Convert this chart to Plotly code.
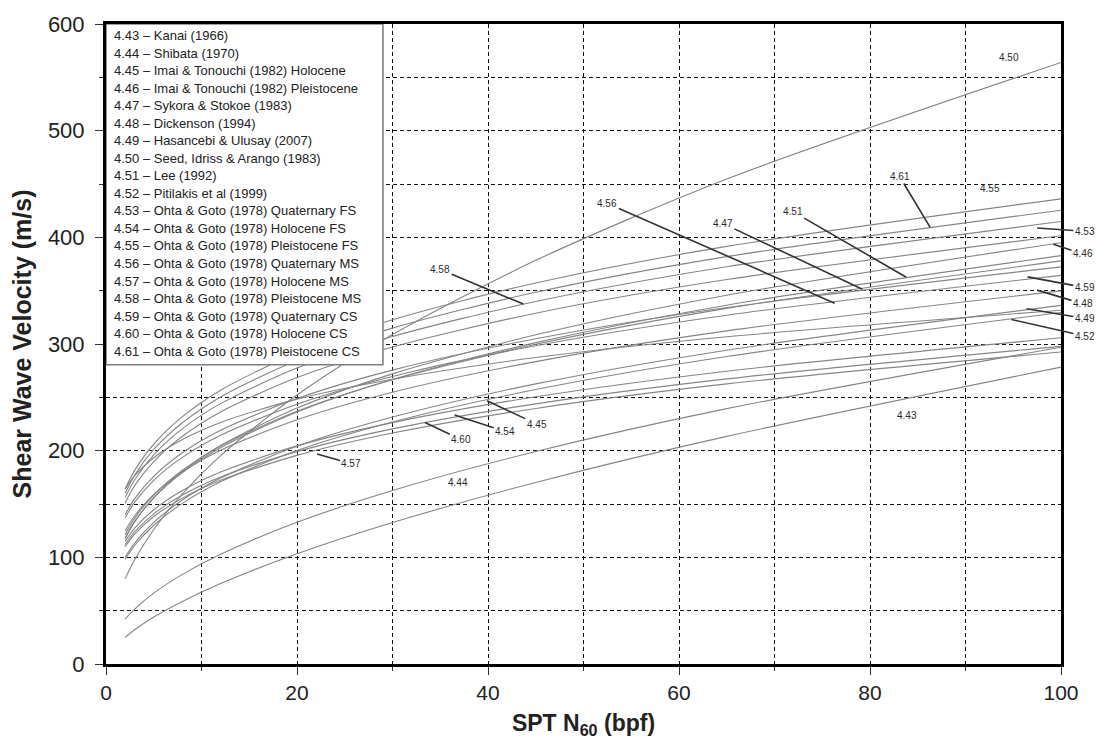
import plotly.graph_objects as go

# SPT blow count samples (bpf) shared by every correlation curve
n60 = [2, 3, 5, 8, 12, 20, 30, 45, 65, 100]

# Shear wave velocity (m/s) for each correlation, equation numbers 4.43-4.61
vs_443 = [25.0, 32.1, 44.0, 58.7, 75.4, 103.3, 132.6, 170.2, 213.4, 278.3]
vs_444 = [42.0, 51.5, 66.4, 84.0, 102.9, 132.8, 162.7, 199.2, 239.4, 297.0]
vs_445 = [98.0, 111.1, 130.1, 150.6, 170.8, 200.1, 226.9, 257.3, 288.3, 329.5]
vs_446 = [117.5, 133.2, 156.0, 180.6, 204.8, 239.9, 272.0, 308.6, 345.7, 395.0]
vs_447 = [121.5, 136.7, 158.4, 181.6, 204.4, 236.9, 266.4, 299.7, 333.4, 377.9]
vs_448 = [125.0, 139.0, 159.0, 180.0, 200.3, 229.0, 254.8, 283.5, 312.3, 349.8]
vs_449 = [100.0, 113.4, 132.8, 153.7, 174.3, 204.2, 231.5, 262.6, 294.2, 336.2]
vs_450 = [79.8, 97.7, 126.1, 159.6, 195.4, 252.2, 308.9, 378.4, 454.7, 564.0]
vs_451 = [118.4, 133.7, 155.8, 179.5, 202.7, 236.2, 266.8, 301.3, 336.4, 382.9]
vs_452 = [164.0, 176.5, 193.4, 210.4, 226.5, 248.3, 267.0, 287.3, 306.8, 331.6]
vs_453 = [151.0, 167.2, 189.8, 213.5, 236.3, 268.5, 297.2, 328.9, 360.4, 401.5]
vs_454 = [115.0, 127.3, 144.6, 162.6, 180.0, 204.5, 226.3, 250.5, 274.5, 305.8]
vs_455 = [164.0, 181.5, 206.1, 231.9, 256.7, 291.6, 322.8, 357.2, 391.5, 436.1]
vs_456 = [140.0, 155.0, 176.0, 198.0, 219.1, 248.9, 275.5, 304.9, 334.2, 372.3]
vs_457 = [110.0, 121.8, 138.3, 155.5, 172.2, 195.6, 216.5, 239.6, 262.6, 292.5]
vs_458 = [156.0, 172.7, 196.1, 220.6, 244.1, 277.4, 307.0, 339.8, 372.4, 414.8]
vs_459 = [137.0, 151.7, 172.2, 193.7, 214.4, 243.6, 269.6, 298.4, 327.0, 364.3]
vs_460 = [112.0, 124.0, 140.8, 158.4, 175.3, 199.1, 220.4, 243.9, 267.3, 297.8]
vs_461 = [160.0, 177.1, 201.1, 226.2, 250.4, 284.5, 314.9, 348.5, 381.9, 425.4]

curve_ids = ["4.43", "4.44", "4.45", "4.46", "4.47", "4.48", "4.49", "4.50", "4.51",
             "4.52", "4.53", "4.54", "4.55", "4.56", "4.57", "4.58", "4.59", "4.60", "4.61"]
curve_values = [vs_443, vs_444, vs_445, vs_446, vs_447, vs_448, vs_449, vs_450, vs_451,
                vs_452, vs_453, vs_454, vs_455, vs_456, vs_457, vs_458, vs_459, vs_460, vs_461]

key_entries = [
    "4.43 – Kanai (1966)",
    "4.44 – Shibata (1970)",
    "4.45 – Imai & Tonouchi (1982) Holocene",
    "4.46 – Imai & Tonouchi (1982) Pleistocene",
    "4.47 – Sykora & Stokoe (1983)",
    "4.48 – Dickenson (1994)",
    "4.49 – Hasancebi & Ulusay (2007)",
    "4.50 – Seed, Idriss & Arango (1983)",
    "4.51 – Lee (1992)",
    "4.52 – Pitilakis et al (1999)",
    "4.53 – Ohta & Goto (1978) Quaternary FS",
    "4.54 – Ohta & Goto (1978) Holocene FS",
    "4.55 – Ohta & Goto (1978) Pleistocene FS",
    "4.56 – Ohta & Goto (1978) Quaternary MS",
    "4.57 – Ohta & Goto (1978) Holocene MS",
    "4.58 – Ohta & Goto (1978) Pleistocene MS",
    "4.59 – Ohta & Goto (1978) Quaternary CS",
    "4.60 – Ohta & Goto (1978) Holocene CS",
    "4.61 – Ohta & Goto (1978) Pleistocene CS",
]

fig = go.Figure()

for cid, vals in zip(curve_ids, curve_values):
    fig.add_trace(go.Scatter(
        x=n60, y=vals, mode="lines", name=cid,
        line=dict(color="#858585", width=1.1, shape="spline", smoothing=0.8),
        showlegend=False, hoverinfo="x+y+name",
    ))

# Curve tags: (text, text_x, text_y, leader_end_x, leader_end_y)
tag_layout = [
    ("4.50", 94.6, 569.0, None, None),
    ("4.55", 92.6, 445.8, None, None),
    ("4.61", 83.1, 457.0, 86.3, 409.3),
    ("4.51", 71.9, 424.3, 83.8, 362.6),
    ("4.47", 64.6, 413.0, 79.2, 351.4),
    ("4.56", 52.5, 431.8, 76.3, 338.3),
    ("4.58", 35.0, 370.0, 43.7, 337.4),
    ("4.53", 102.5, 405.6, 97.5, 408.7),
    ("4.46", 102.3, 384.4, 99.2, 393.5),
    ("4.59", 102.5, 353.0, 96.5, 362.9),
    ("4.48", 102.3, 337.7, 97.5, 350.5),
    ("4.49", 102.5, 324.0, 96.4, 333.0),
    ("4.52", 102.5, 307.5, 94.8, 323.0),
    ("4.57", 25.7, 187.6, 22.1, 196.9),
    ("4.60", 37.2, 210.3, 33.4, 226.4),
    ("4.54", 41.8, 218.0, 36.5, 233.4),
    ("4.45", 45.1, 225.0, 39.9, 246.7),
    ("4.44", 36.9, 170.4, None, None),
    ("4.43", 83.9, 232.7, None, None),
]

annotations = []
tag_font = dict(family="Liberation Sans, Arial, sans-serif", size=10, color="#2a2a2a")
for text, tx, ty, ex, ey in tag_layout:
    if ex is None:
        annotations.append(dict(x=tx, y=ty, xref="x", yref="y", text=text,
                                showarrow=False, font=tag_font))
    else:
        annotations.append(dict(x=ex, y=ey, xref="x", yref="y", ax=tx, ay=ty,
                                axref="x", ayref="y", text=text, showarrow=True,
                                arrowhead=0, arrowwidth=1.6, arrowcolor="#333333",
                                standoff=0, startstandoff=0, font=tag_font))

# Key box listing the correlations
key_font = dict(family="Liberation Sans, Arial, sans-serif", size=13, color="#222222")
for i, entry in enumerate(key_entries):
    annotations.append(dict(x=0.6, y=588.8 - 16.41 * i, xref="x", yref="y",
                            text=entry, showarrow=False, xanchor="left",
                            yanchor="middle", font=key_font))

shapes = [dict(type="rect", xref="x", yref="y", x0=0, x1=29.0, y0=280.6, y1=600,
               fillcolor="white", line=dict(color="#808080", width=1.6), layer="above")]

grid_style = dict(showgrid=True, gridcolor="#111111", gridwidth=1.1, griddash="4px,3px")

fig.update_layout(
    width=1097, height=749,
    margin=dict(l=106, r=36, t=22, b=85),
    paper_bgcolor="white", plot_bgcolor="white",
    annotations=annotations, shapes=shapes,
    xaxis=dict(
        range=[0, 100], tickvals=[0, 20, 40, 60, 80, 100],
        ticks="outside", ticklen=8, tickwidth=1, tickcolor="#333333",
        tickfont=dict(family="Liberation Sans Narrow, Arial Narrow, Liberation Sans, sans-serif",
                      size=21, color="#222222"),
        **grid_style,
        minor=dict(dtick=10, ticks="outside", ticklen=4, tickcolor="#333333", **grid_style),
        showline=True, linecolor="black", linewidth=3, mirror=True, zeroline=False,
        title=dict(text="<b>SPT N<sub>60</sub> (bpf)</b>", standoff=12,
                   font=dict(family="Liberation Sans Narrow, Arial Narrow, Liberation Sans, sans-serif",
                             size=23, color="#222222")),
    ),
    yaxis=dict(
        range=[0, 600], dtick=100,
        ticks="outside", ticklen=8, tickwidth=1, tickcolor="#333333",
        ticklabelstandoff=6,
        tickfont=dict(family="Liberation Sans, Arial, sans-serif", size=22, color="#222222"),
        **grid_style,
        minor=dict(dtick=50, ticks="outside", ticklen=4, tickcolor="#333333", **grid_style),
        showline=True, linecolor="black", linewidth=3, mirror=True, zeroline=False,
        title=dict(text="<b>Shear Wave Velocity (m/s)</b>", standoff=10,
                   font=dict(family="Liberation Sans Narrow, Arial Narrow, Liberation Sans, sans-serif",
                             size=25, color="#222222")),
    ),
)

fig.write_html("out.html")
